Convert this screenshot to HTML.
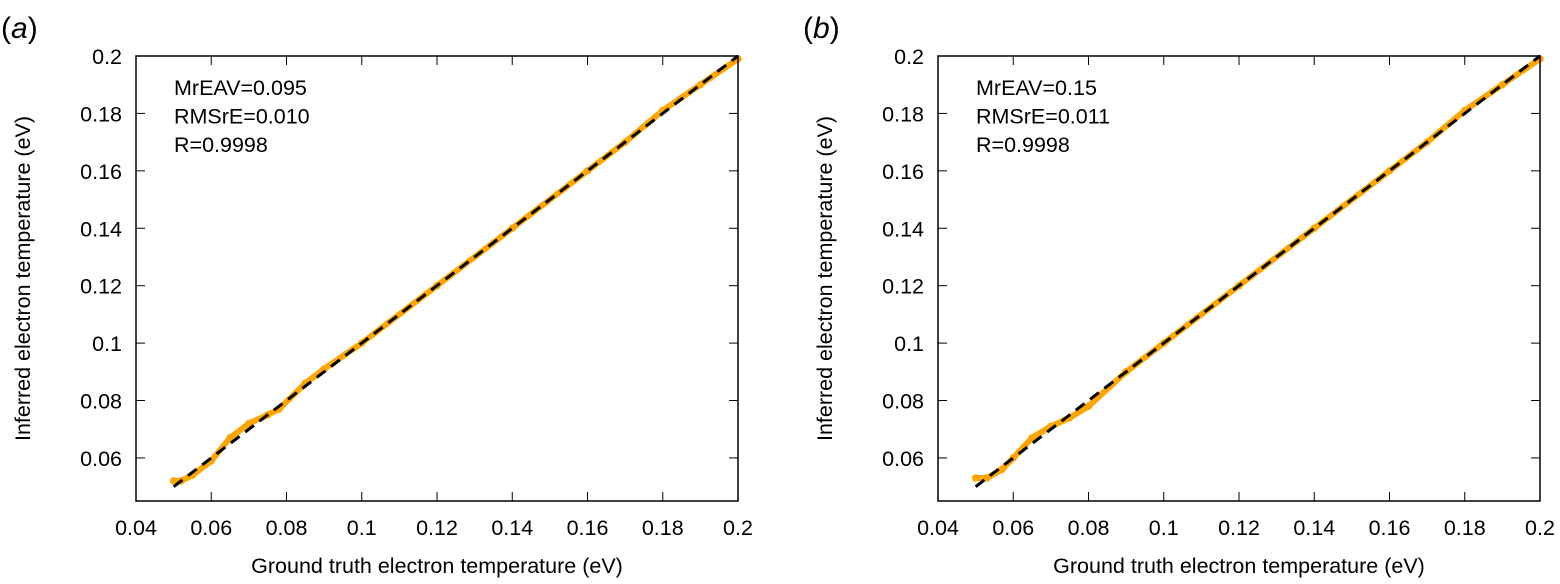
<!DOCTYPE html>
<html><head><meta charset="utf-8"><style>
html,body{margin:0;padding:0;background:#fff}
svg text{font-family:"Liberation Sans",sans-serif;fill:#000}
</style></head><body>
<svg id="s" width="1560" height="579" xmlns="http://www.w3.org/2000/svg"></svg>
<script>
const xTicks=[0.04,0.06,0.08,0.1,0.12,0.14,0.16,0.18,0.2];
const xTickLabels=["0.04","0.06","0.08","0.1","0.12","0.14","0.16","0.18","0.2"];
const yTicks=[0.06,0.08,0.1,0.12,0.14,0.16,0.18,0.2];
const yTickLabels=["0.06","0.08","0.1","0.12","0.14","0.16","0.18","0.2"];
const truthA=[0.05,0.052,0.055,0.06,0.065,0.07,0.075,0.078,0.085,0.09,0.1,0.12,0.14,0.16,0.17,0.18,0.19,0.2];
const inferA=[0.052,0.052,0.054,0.059,0.067,0.072,0.075,0.077,0.086,0.091,0.1,0.12,0.14,0.16,0.17,0.181,0.19,0.199];
const truthB=[0.05,0.053,0.057,0.06,0.065,0.07,0.075,0.08,0.09,0.1,0.12,0.14,0.16,0.17,0.18,0.19,0.2];
const inferB=[0.053,0.053,0.056,0.06,0.067,0.071,0.074,0.078,0.09,0.1,0.12,0.14,0.16,0.17,0.181,0.19,0.199];
const statsA=["MrEAV=0.095","RMSrE=0.010","R=0.9998"];
const statsB=["MrEAV=0.15","RMSrE=0.011","R=0.9998"];
const NS="http://www.w3.org/2000/svg";
const svg=document.getElementById('s');
function mk(tag,attrs,parent,txt){const e=document.createElementNS(NS,tag);for(const k in attrs)e.setAttribute(k,attrs[k]);if(txt!==undefined)e.textContent=txt;(parent||svg).appendChild(e);return e;}
function panel(ox,tx,ty,stats,id){
  const L=136+ox,R=738+ox,T=56,B=501,xmin=0.04,xmax=0.2,ymin=0.045,ymax=0.2;
  const X=v=>L+(v-xmin)/(xmax-xmin)*(R-L), Y=v=>B-(v-ymin)/(ymax-ymin)*(B-T);
  const g=mk('g',{});
  
  
  const pl=mk('text',{x:ox+1,y:38,'font-size':30,'font-family':'Liberation Serif'},g);
  
  pl.innerHTML='(<tspan font-style="italic">'+id+'</tspan>)';
  xTicks.forEach((v,i)=>{
    if(i>0&&i<xTicks.length-1){mk('line',{x1:X(v),x2:X(v),y1:B,y2:B-9,stroke:'#000','stroke-width':1},g);mk('line',{x1:X(v),x2:X(v),y1:T,y2:T+9,stroke:'#000','stroke-width':1},g);}
    const t=mk('text',{x:X(v),y:535,'font-size':21.5,'text-anchor':'middle'},g,xTickLabels[i]);
    
  });
  yTicks.forEach((v,i)=>{
    if(i<yTicks.length-1){mk('line',{x1:L,x2:L+9,y1:Y(v),y2:Y(v),stroke:'#000','stroke-width':1},g);mk('line',{x1:R,x2:R-9,y1:Y(v),y2:Y(v),stroke:'#000','stroke-width':1},g);}
    const t=mk('text',{x:L-14,y:Y(v)+8,'font-size':21.5,'text-anchor':'end'},g,yTickLabels[i]);
    
  });
  const xt=mk('text',{x:(L+R)/2,y:573,'font-size':21.5,'text-anchor':'middle'},g,'Ground truth electron temperature (eV)');
  
  const yt=mk('text',{x:0,y:0,'font-size':21.5,'text-anchor':'middle',transform:`translate(${ox+30},${(T+B)/2}) rotate(-90)`},g,'Inferred electron temperature (eV)');
  
  const pts=tx.map((v,i)=>X(v)+','+Y(ty[i])).join(' ');
  const sc=mk('polyline',{points:pts,fill:'none',stroke:'#ffa500','stroke-width':6,'stroke-linejoin':'round','stroke-linecap':'round'},g);
  
  tx.forEach((v,i)=>{const c=mk('circle',{cx:X(v),cy:Y(ty[i]),r:3,fill:'none',stroke:'#ffa500','stroke-width':1.5},g);
    });
  const d=mk('line',{x1:X(0.05),y1:Y(0.05),x2:X(0.2),y2:Y(0.2),stroke:'#000','stroke-width':3,'stroke-dasharray':'11,7'},g);
  
  mk('rect',{x:L,y:T,width:R-L,height:B-T,fill:'none',stroke:'#000','stroke-width':1.5},g);
  stats.forEach((s,i)=>{const t=mk('text',{x:L+38,y:95+i*28.5,'font-size':21.5},g,s);
    });
}
panel(0,truthA,inferA,statsA,'a');
panel(802,truthB,inferB,statsB,'b');
</script>
</body></html>
